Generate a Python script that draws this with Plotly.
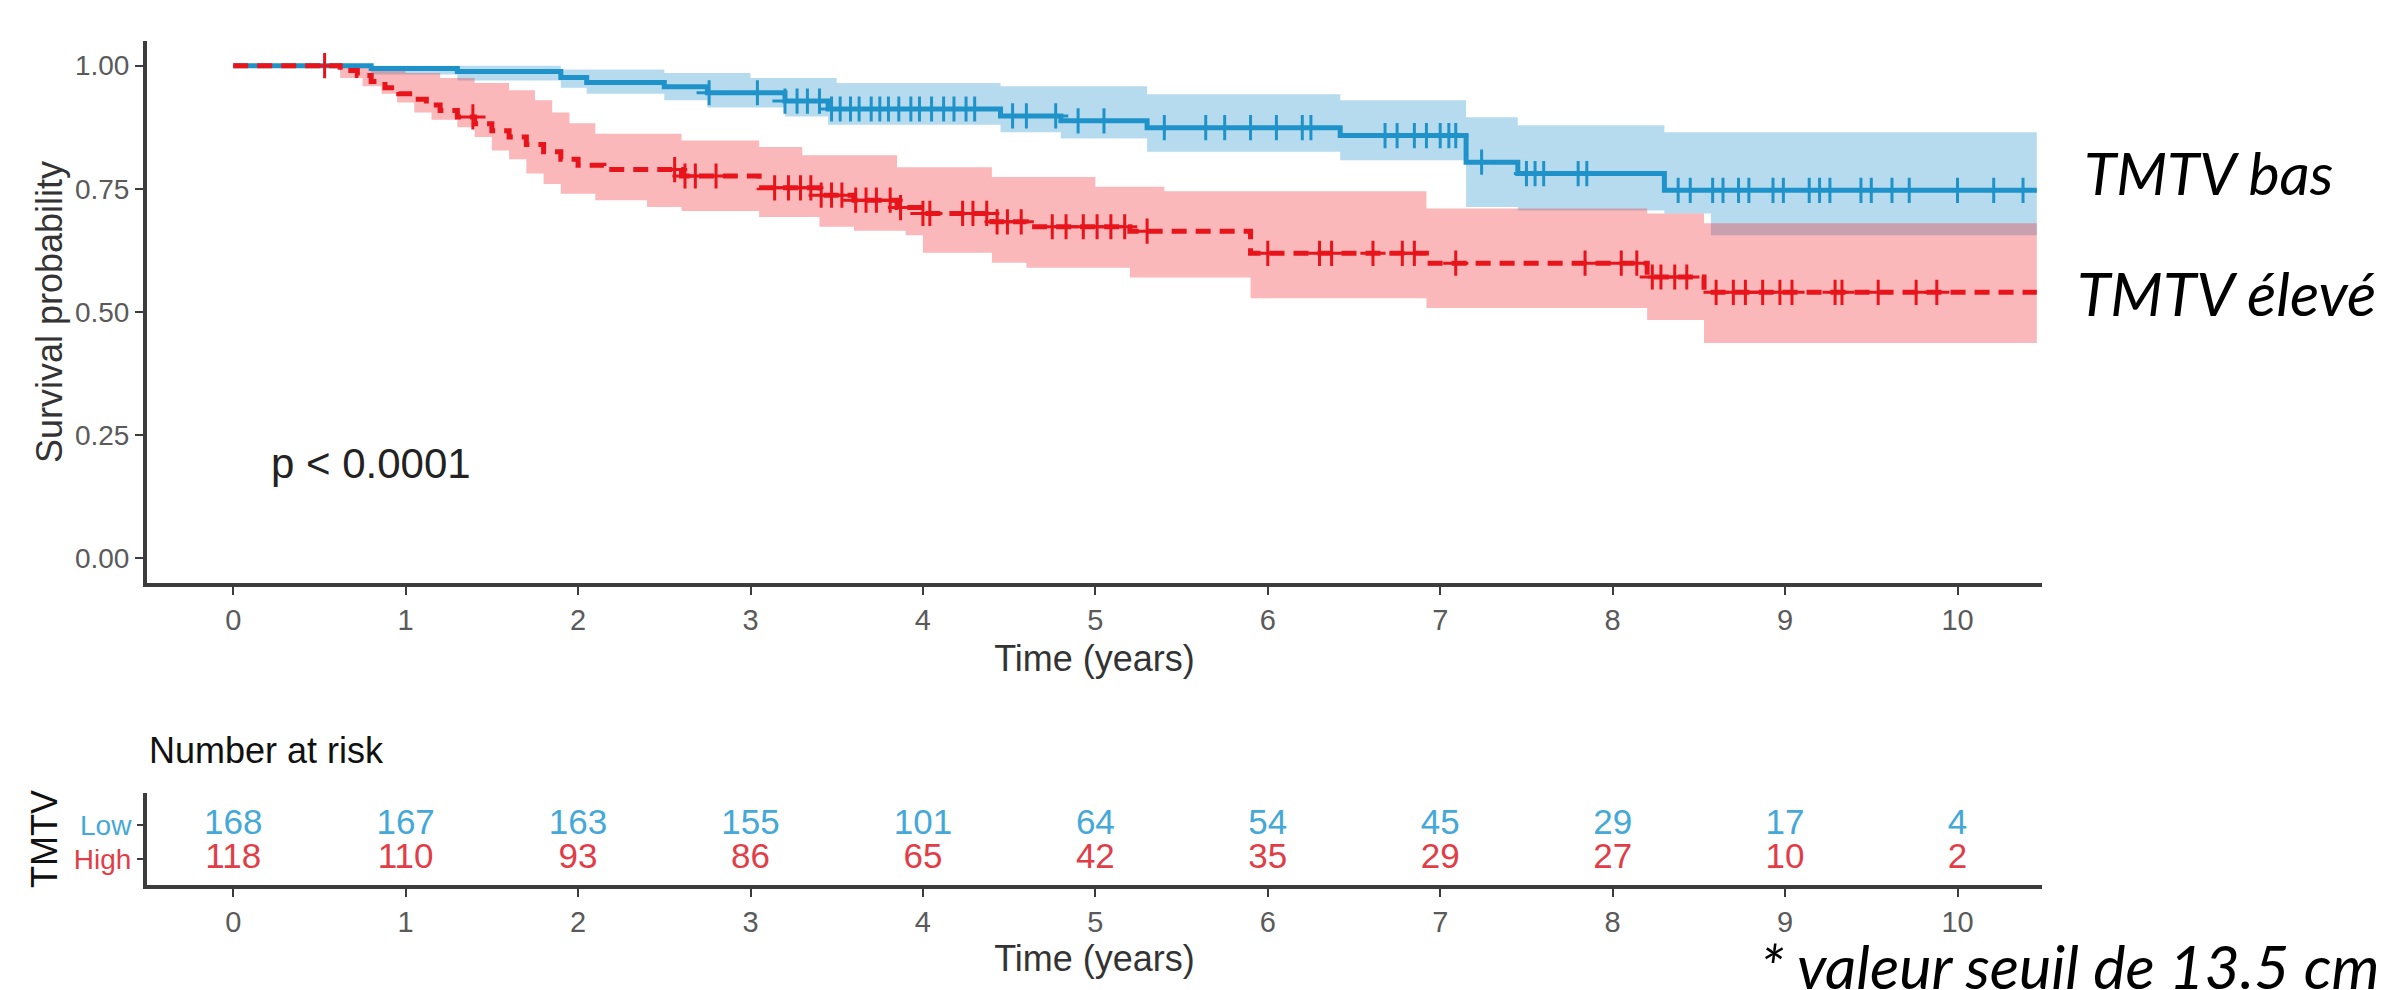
import numpy as np
import plotly.graph_objects as go

W, H = 2382, 990

# ---------------- data ----------------
time_ticks = list(range(0, 11))
t_end = 10.46

# TMTV low (blue) Kaplan-Meier step curve
low_t = [0, 0.8, 1.3, 1.9, 2.05, 2.5, 2.75, 3.2, 3.45, 4.45, 4.8, 5.3, 6.42, 7.15, 7.45, 8.3]
low_s = [1.0, 0.994, 0.988, 0.976, 0.966, 0.957, 0.945, 0.928, 0.912, 0.898, 0.888, 0.874, 0.858, 0.804, 0.781, 0.747]
low_up_t = [0, 1.9, 2.5, 3.0, 3.5, 4.45, 5.3, 6.42, 7.15, 7.45, 8.3]
low_up_s = [1.0, 0.992, 0.985, 0.975, 0.965, 0.958, 0.942, 0.93, 0.895, 0.879, 0.865]
low_lo_t = [0, 0.8, 1.3, 1.9, 2.05, 2.5, 2.75, 3.2, 3.45, 4.45, 4.8, 5.3, 6.42, 7.15, 7.45, 8.3, 8.57]
low_lo_s = [1.0, 0.982, 0.97, 0.955, 0.943, 0.93, 0.915, 0.897, 0.88, 0.865, 0.852, 0.825, 0.808, 0.713, 0.706, 0.70, 0.656]
low_cens = [2.76, 3.04, 3.2, 3.27, 3.33, 3.4, 3.47, 3.52, 3.58, 3.63, 3.7, 3.75, 3.8, 3.86, 3.93,
            3.98, 4.05, 4.12, 4.18, 4.25, 4.3, 4.52, 4.6, 4.77, 4.9, 5.05, 5.4, 5.64, 5.75, 5.9,
            6.05, 6.2, 6.25, 6.68, 6.75, 6.85, 6.92, 7.0, 7.05, 7.09, 7.24, 7.5, 7.55, 7.6, 7.8,
            7.85, 8.38, 8.45, 8.58, 8.64, 8.73, 8.79, 8.93, 8.99, 9.14, 9.2, 9.26, 9.44, 9.5,
            9.62, 9.72, 10.0, 10.21, 10.38]

# TMTV high (red) Kaplan-Meier step curve
high_t = [0, 0.62, 0.72, 0.8, 0.88, 0.96, 1.04, 1.12, 1.2, 1.3, 1.4, 1.5, 1.6, 1.7, 1.8, 1.9,
          2.0, 2.15, 2.6, 3.05, 3.4, 3.6, 3.85, 4.0, 4.4, 4.6, 5.2, 5.9, 6.92, 8.2, 8.53]
high_s = [1.0, 0.99, 0.98, 0.968, 0.955, 0.943, 0.932, 0.92, 0.909, 0.896, 0.882, 0.868, 0.855,
          0.84, 0.825, 0.81, 0.798, 0.789, 0.776, 0.752, 0.737, 0.727, 0.712, 0.70, 0.683, 0.673,
          0.664, 0.619, 0.599, 0.571, 0.54]
high_up_t = [0, 0.62, 0.8, 1.0, 1.2, 1.4, 1.6, 1.75, 1.85, 1.95, 2.1, 2.6, 3.05, 3.3, 3.85, 4.4,
             5.0, 5.4, 6.92, 8.2, 8.53]
high_up_s = [1.0, 1.0, 0.995, 0.985, 0.975, 0.965, 0.95, 0.93, 0.905, 0.883, 0.862, 0.848, 0.835,
             0.818, 0.794, 0.774, 0.754, 0.745, 0.71, 0.70, 0.68]
high_lo_t = [0, 0.62, 0.75, 0.86, 0.95, 1.05, 1.15, 1.3, 1.4, 1.5, 1.6, 1.7, 1.8, 1.9, 2.1, 2.4,
             2.6, 3.05, 3.4, 3.6, 3.9, 4.0, 4.4, 4.6, 5.2, 5.9, 6.92, 8.2, 8.53]
high_lo_s = [1.0, 0.975, 0.958, 0.943, 0.925, 0.905, 0.89, 0.875, 0.855, 0.828, 0.81, 0.781, 0.76,
             0.74, 0.727, 0.713, 0.705, 0.693, 0.673, 0.665, 0.656, 0.62, 0.60, 0.59, 0.57, 0.528,
             0.508, 0.484, 0.437]
high_cens = [0.53, 1.39, 2.56, 2.62, 2.68, 2.8, 3.14, 3.22, 3.29, 3.35, 3.41, 3.47, 3.53, 3.61,
             3.67, 3.73, 3.81, 3.87, 4.0, 4.04, 4.23, 4.29, 4.37, 4.43, 4.49, 4.57, 4.75, 4.83,
             4.93, 5.01, 5.09, 5.17, 5.3, 6.0, 6.30, 6.37, 6.61, 6.78, 6.85, 7.09, 7.84, 8.05,
             8.14, 8.23, 8.28, 8.36, 8.43, 8.6, 8.7, 8.77, 8.87, 8.97, 9.04, 9.29, 9.33, 9.54,
             9.76, 9.88]

risk_low = [168, 167, 163, 155, 101, 64, 54, 45, 29, 17, 4]
risk_high = [118, 110, 93, 86, 65, 42, 35, 29, 27, 10, 2]

# ---------------- styling ----------------
BLUE = "#1f93c9"
RED = "#e8141b"
BLUE_FILL = "rgba(40,150,205,0.34)"
RED_FILL = "rgba(240,40,50,0.33)"
BLUE_TXT = "#44a8d8"
RED_TXT = "#e23d47"
SANS = "Liberation Sans, Arial, sans-serif"
ITAL = "Lato, Open Sans, sans-serif"
AXC = "#3c3c3c"


def px(x):
    return x / W


def py(y):
    return 1 - y / H


def ext(t, s):
    return list(t) + [t_end], list(s) + [s[-1]]


def step_at(t, s, x):
    idx = np.searchsorted(np.asarray(t), np.asarray(x), side="right") - 1
    return np.asarray(s)[idx]


fig = go.Figure()


def add_band(tl, sl, tu, su, fill):
    x1, y1 = ext(tl, sl)
    x2, y2 = ext(tu, su)
    fig.add_trace(go.Scatter(x=x1, y=y1, mode="lines", line=dict(width=0, shape="hv"),
                             hoverinfo="skip", showlegend=False))
    fig.add_trace(go.Scatter(x=x2, y=y2, mode="lines", line=dict(width=0, shape="hv"),
                             fill="tonexty", fillcolor=fill, hoverinfo="skip", showlegend=False))


add_band(low_lo_t, low_lo_s, low_up_t, low_up_s, BLUE_FILL)
add_band(high_lo_t, high_lo_s, high_up_t, high_up_s, RED_FILL)

xl, yl = ext(low_t, low_s)
fig.add_trace(go.Scatter(x=xl, y=yl, mode="lines", line=dict(color=BLUE, width=5, shape="hv"),
                         name="Low", showlegend=False))
fig.add_trace(go.Scatter(x=low_cens, y=step_at(low_t, low_s, low_cens), mode="markers",
                         marker=dict(symbol="cross-thin", size=18, line=dict(width=3, color=BLUE)),
                         showlegend=False, hoverinfo="skip"))

xh, yh = ext(high_t, high_s)
fig.add_trace(go.Scatter(x=xh, y=yh, mode="lines",
                         line=dict(color=RED, width=5, shape="hv", dash="15px,9px"),
                         name="High", showlegend=False))
fig.add_trace(go.Scatter(x=high_cens, y=step_at(high_t, high_s, high_cens), mode="markers",
                         marker=dict(symbol="cross-thin", size=18, line=dict(width=3, color=RED)),
                         showlegend=False, hoverinfo="skip"))

# risk table
fig.add_trace(go.Scatter(x=time_ticks, y=[2] * len(time_ticks), mode="text",
                         text=[str(v) for v in risk_low],
                         textfont=dict(family=SANS, size=35, color=BLUE_TXT),
                         xaxis="x2", yaxis="y2", showlegend=False, hoverinfo="skip"))
fig.add_trace(go.Scatter(x=time_ticks, y=[1] * len(time_ticks), mode="text",
                         text=[str(v) for v in risk_high],
                         textfont=dict(family=SANS, size=35, color=RED_TXT),
                         xaxis="x2", yaxis="y2", showlegend=False, hoverinfo="skip"))

xdom = [px(147), px(2042)]
common_x = dict(domain=xdom, range=[-0.5, 10.49], tickvals=time_ticks,
                ticktext=[str(v) for v in time_ticks], ticks="outside", ticklen=8,
                tickwidth=2, tickcolor=AXC, showline=True, linewidth=4, linecolor=AXC,
                showgrid=False, zeroline=False,
                tickfont=dict(family=SANS, size=29, color="#5a5a5a"))

fig.update_layout(
    width=W, height=H,
    margin=dict(l=0, r=0, t=0, b=0),
    paper_bgcolor="white", plot_bgcolor="white",
    xaxis=dict(common_x, anchor="y",
               title=dict(text="Time (years)", standoff=12,
                          font=dict(family=SANS, size=36, color="#333333"))),
    yaxis=dict(domain=[py(583), py(41)], range=[-0.05, 1.05], anchor="x",
               tickvals=[0, 0.25, 0.5, 0.75, 1.0],
               ticktext=["0.00", "0.25", "0.50", "0.75", "1.00"],
               ticks="outside", ticklen=8, tickwidth=2, tickcolor=AXC,
               showline=True, linewidth=4, linecolor=AXC, showgrid=False, zeroline=False,
               tickfont=dict(family=SANS, size=28, color="#5a5a5a"),
               title=dict(text="Survival probability", standoff=2,
                          font=dict(family=SANS, size=36, color="#333333"))),
    xaxis2=dict(common_x, anchor="y2",
                title=dict(text="Time (years)", standoff=8,
                           font=dict(family=SANS, size=36, color="#333333"))),
    yaxis2=dict(domain=[py(885), py(793)], range=[0.25, 2.95], anchor="x2",
                tickvals=[1, 2],
                ticktext=[f"<span style='color:{RED_TXT}'>High</span>",
                          f"<span style='color:{BLUE_TXT}'>Low</span>"],
                ticks="outside", ticklen=6, tickwidth=2, tickcolor=AXC,
                showline=True, linewidth=4, linecolor=AXC, showgrid=False, zeroline=False,
                tickfont=dict(family=SANS, size=28),
                title=dict(text="TMTV", standoff=6,
                           font=dict(family=SANS, size=36, color="#111111"))),
    annotations=[
        dict(text="Number at risk", x=px(147), y=py(750), xref="paper", yref="paper",
             xanchor="left", yanchor="middle", showarrow=False,
             font=dict(family=SANS, size=36, color="#111111")),
        dict(text="p < 0.0001", x=px(371), y=py(463), xref="paper", yref="paper",
             xanchor="center", yanchor="middle", showarrow=False,
             font=dict(family=SANS, size=42, color="#222222")),
        dict(text="<i>TMTV bas</i>", x=px(2082), y=py(172), xref="paper", yref="paper",
             xanchor="left", yanchor="middle", showarrow=False,
             font=dict(family=ITAL, size=59, color="black")),
        dict(text="<i>TMTV élevé</i>", x=px(2075), y=py(292), xref="paper", yref="paper",
             xanchor="left", yanchor="middle", showarrow=False,
             font=dict(family=ITAL, size=61, color="black")),
        dict(text="<i>* valeur seuil de 13.5 cm³</i>", x=px(1758), y=py(965), xref="paper",
             yref="paper", xanchor="left", yanchor="middle", showarrow=False,
             font=dict(family=ITAL, size=61, color="black")),
    ],
)

fig.write_html("out.html", config={"displayModeBar": False},
               post_script="document.body.style.margin='0';document.body.style.overflow='hidden';")
